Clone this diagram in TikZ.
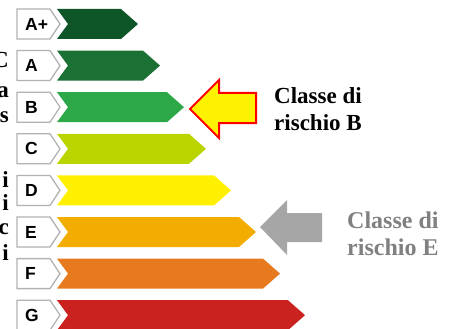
\documentclass[tikz,border=0pt]{standalone}
\usepackage{fontspec}
\setmainfont{Liberation Serif}
\setsansfont{Liberation Sans}
\usetikzlibrary{positioning}
\definecolor{clsAp}{RGB}{14,85,40}
\definecolor{clsA}{RGB}{27,112,52}
\definecolor{clsB}{RGB}{44,168,72}
\definecolor{clsC}{RGB}{186,212,0}
\definecolor{clsD}{RGB}{255,240,0}
\definecolor{clsE}{RGB}{243,172,0}
\definecolor{clsF}{RGB}{231,121,30}
\definecolor{clsG}{RGB}{202,34,30}
\definecolor{tagGray}{RGB}{178,178,178}
\definecolor{arrGray}{RGB}{166,166,166}
\definecolor{noteGray}{RGB}{128,128,128}

\begin{document}
\begin{tikzpicture}[x=1pt,y=-1pt,
  tag/.style={draw=tagGray,line width=1.3pt,fill=white},
  letter/.style={font=\sffamily\bfseries\fontsize{17.5}{17.5}\selectfont,
                 anchor=west,inner sep=0pt},
  note/.style={font=\bfseries\fontsize{23}{27}\selectfont,align=left,
               anchor=north west,inner sep=0pt},
  cut/.style={font=\bfseries\fontsize{23}{27}\selectfont,inner sep=0pt,
              anchor=base east}]

\useasboundingbox (0,0) rectangle (450,329);
\clip (0,0) rectangle (450,329);

\foreach \lbl/\col/\tip [count=\i from 0] in
  {A+/clsAp/138, A/clsA/160, B/clsB/184, C/clsC/206,
   D/clsD/231, E/clsE/256, F/clsF/280, G/clsG/305} {
  \pgfmathsetmacro{\yc}{24+41.6*\i}
  \draw[tag] (17,\yc-15) -- (50,\yc-15) -- (60,\yc) -- (50,\yc+15)
             -- (17,\yc+15) -- cycle;
  \node[letter] (L\i) at (25,\yc) {\lbl};
  \fill[\col] (57,\yc-15) -- (\tip-17,\yc-15) -- (\tip,\yc)
              -- (\tip-17,\yc+15) -- (57,\yc+15) -- (68,\yc) -- cycle;
}

\foreach \ch/\yb [count=\k] in {C/67, a/97, s/122, i/187, i/210, c/234, i/260}
  \node[cut] (cut\k) at (9,\yb) {\ch};

\draw[fill=yellow,draw=red,line width=2pt,line join=miter]
  (190,109) -- (219,80) -- (219,93) -- (256,93) -- (256,123)
  -- (219,123) -- (219,138) -- cycle;
\node[note] (riskB) at (274,87.5) {Classe di\\rischio B};

\fill[arrGray] (260,227) -- (287,200) -- (287,213) -- (322,213)
  -- (322,242) -- (287,242) -- (287,255) -- cycle;
\node[note,text=noteGray,font=\bfseries\fontsize{24}{27}\selectfont]
  (riskE) at (347,211.5) {Classe di\\rischio E};
\end{tikzpicture}
\end{document}
